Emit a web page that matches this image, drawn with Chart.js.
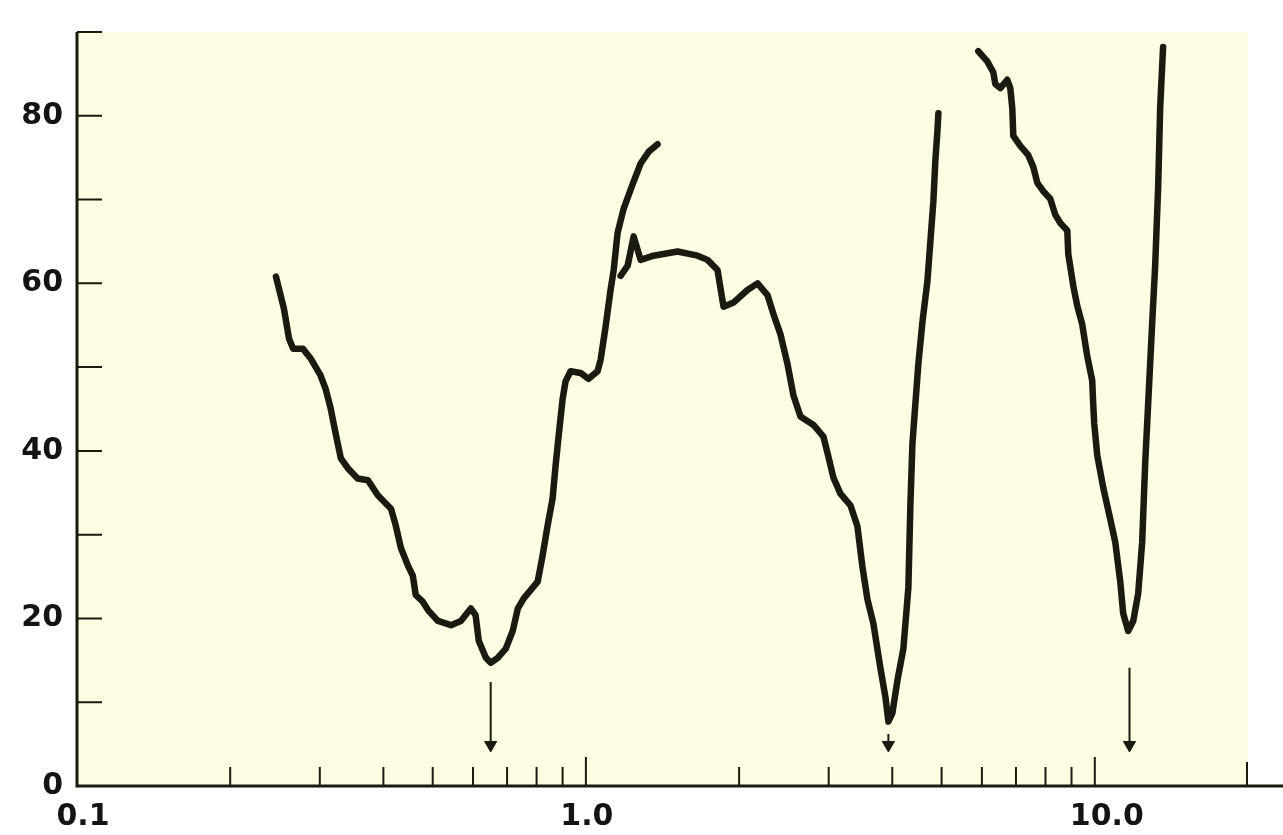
<!DOCTYPE html>
<html lang="en">
<head>
  <meta charset="UTF-8">
  <title>Chart</title>
  <script src="https://cdn.jsdelivr.net/npm/chart.js@4.4.1/dist/chart.umd.min.js"></script>
  <style>
    body { margin: 0; background: #fff; }
    canvas { display: block; }
  </style>
</head>
<body>
  <canvas id="chart" width="1283" height="835"></canvas>

<script>
  // trace 1 : 0.25 .. 1.4
  const curve1X = [0.246, 0.255, 0.261, 0.266, 0.278, 0.288, 0.301, 0.308, 0.315, 0.323, 0.330, 0.341, 0.356, 0.373, 0.390,
    0.414, 0.423, 0.433, 0.447, 0.457, 0.463, 0.478, 0.491, 0.512, 0.543, 0.568, 0.594, 0.607, 0.616, 0.636, 0.650,
    0.671, 0.696, 0.718, 0.735, 0.755, 0.804, 0.822, 0.841, 0.860, 0.872, 0.884, 0.900, 0.912, 0.933, 0.976, 1.012,
    1.054, 1.069, 1.093, 1.118, 1.134, 1.154, 1.186, 1.235, 1.281, 1.328, 1.383];
  const curve1Y = [60.8, 57.0, 53.4, 52.2, 52.2, 51.0, 49.0, 47.4, 45.1, 41.8, 39.1, 37.9, 36.7, 36.5, 34.7,
    33.1, 31.1, 28.4, 26.3, 25.1, 22.8, 22.0, 20.9, 19.7, 19.2, 19.7, 21.2, 20.4, 17.3, 15.3, 14.7,
    15.3, 16.4, 18.5, 21.2, 22.4, 24.4, 27.5, 31.1, 34.3, 38.3, 41.8, 46.2, 48.3, 49.5, 49.3, 48.6,
    49.5, 50.9, 54.8, 59.2, 61.6, 66.0, 68.9, 71.8, 74.3, 75.7, 76.6];

  // trace 2 : 1.2 .. 4.9
  const curve2X = [1.170, 1.208, 1.241, 1.281, 1.358, 1.514, 1.657, 1.734, 1.814, 1.864, 1.950, 2.077, 2.174, 2.274,
    2.337, 2.412, 2.489, 2.558, 2.640, 2.800, 2.929, 2.996, 3.065, 3.163, 3.310, 3.416, 3.494, 3.574, 3.672, 3.790,
    3.878, 3.930, 4.002, 4.094, 4.206, 4.302, 4.341, 4.381, 4.440, 4.501, 4.583, 4.688, 4.752, 4.817, 4.861, 4.905, 4.928];
  const curve2Y = [60.9, 62.1, 65.6, 62.8, 63.3, 63.8, 63.3, 62.8, 61.6, 57.2, 57.7, 59.2, 60.0, 58.6,
    56.3, 53.9, 50.4, 46.6, 44.1, 43.1, 41.7, 39.3, 36.8, 34.9, 33.5, 31.0, 26.2, 22.3, 19.4, 14.1,
    10.6, 7.7, 8.7, 12.6, 16.4, 23.7, 33.5, 40.8, 45.6, 50.4, 55.3, 60.2, 65.0, 69.8, 74.7, 78.1, 80.3];

  // trace 3 : 5.9 .. 13.6
  const curve3X = [5.903, 6.148, 6.317, 6.375, 6.521, 6.730, 6.822, 6.884, 6.916, 7.138, 7.401, 7.570, 7.709, 7.920,
    8.174, 8.361, 8.554, 8.829, 8.869, 9.072, 9.237, 9.448, 9.664, 9.883, 9.928, 9.973, 10.11, 10.39, 10.72, 10.97,
    11.22, 11.37, 11.63, 11.90, 12.17, 12.39, 12.56, 12.73, 12.96, 13.14, 13.32, 13.44, 13.62];
  const curve3Y = [87.7, 86.5, 85.2, 83.8, 83.3, 84.3, 83.3, 80.9, 77.6, 76.4, 75.3, 73.9, 72.0, 71.0,
    70.1, 68.2, 67.2, 66.3, 63.5, 59.7, 57.3, 55.1, 51.3, 48.4, 45.6, 43.3, 39.5, 35.6, 31.9, 29.1,
    24.4, 20.6, 18.5, 19.7, 23.0, 29.1, 38.5, 45.6, 55.1, 62.1, 71.5, 80.9, 88.2];

  // arrows marking the minima
  const arrowX = [0.65, 3.93, 11.7];
  const arrowTop = [12.4, 6.2, 14.1];
  const arrowHead = [4.9, 4.9, 4.9];

  // axes
  const yTicks = [10, 20, 30, 40, 50, 60, 70, 80, 90];
  const yLabels = [0, 20, 40, 60, 80];
  const xMinorTicks = [0.2, 0.3, 0.4, 0.5, 0.6, 0.7, 0.8, 0.9, 2, 3, 4, 5, 6, 7, 8, 9];
  const xMajorTicks = [1, 10, 20];
  const xLabelValues = [0.1, 1, 10];
  const xLabels = ['0.1', '1.0', '10.0'];

  const INK = '#1b1a10';

  function points(xs, ys) {
    return xs.map((x, i) => ({ x: x, y: ys[i] }));
  }

  const traces = [[curve1X, curve1Y], [curve2X, curve2Y], [curve3X, curve3Y]].map(t => ({
    data: points(t[0], t[1]),
    showLine: true,
    borderColor: INK,
    borderWidth: 6.5,
    borderJoinStyle: 'round',
    borderCapStyle: 'round',
    pointRadius: 0,
    tension: 0
  }));

  const arrows = arrowX.map((x, i) => ({
    data: [{ x: x, y: arrowTop[i] }, { x: x, y: arrowHead[i] }],
    showLine: true,
    borderColor: INK,
    borderWidth: 2,
    pointStyle: 'triangle',
    pointRotation: 180,
    pointRadius: [0, 7],
    pointBackgroundColor: INK,
    pointBorderColor: INK,
    pointBorderWidth: 1
  }));

  const frame = {
    id: 'frame',
    beforeDatasetsDraw(chart) {
      const ctx = chart.ctx;
      const a = chart.chartArea;
      const x = chart.scales.x, y = chart.scales.y;
      ctx.save();
      ctx.fillStyle = '#fefce2';
      ctx.fillRect(a.left, a.top, a.right - a.left, a.bottom - a.top);

      ctx.strokeStyle = INK;
      ctx.lineWidth = 3;
      ctx.beginPath();
      ctx.moveTo(a.left, a.top);
      ctx.lineTo(a.left, a.bottom);
      ctx.lineTo(chart.width, a.bottom);
      ctx.stroke();

      ctx.lineWidth = 2;
      ctx.beginPath();
      yTicks.forEach(v => {
        const py = y.getPixelForValue(v);
        ctx.moveTo(a.left, py);
        ctx.lineTo(a.left + 25, py);
      });
      xMinorTicks.forEach(v => {
        const px = x.getPixelForValue(v);
        ctx.moveTo(px, a.bottom);
        ctx.lineTo(px, a.bottom - 19);
      });
      xMajorTicks.forEach((v, i) => {
        const px = Math.min(x.getPixelForValue(v), a.right - 1);
        ctx.moveTo(px, a.bottom);
        ctx.lineTo(px, a.bottom - (i < 2 ? 29 : 24));
      });
      ctx.stroke();

      ctx.fillStyle = '#141414';
      ctx.font = 'bold 30px "DejaVu Sans"';
      ctx.textAlign = 'right';
      ctx.textBaseline = 'middle';
      yLabels.forEach(v => {
        ctx.fillText(String(v), 63, y.getPixelForValue(v));
      });
      const shift = [6, 1, 12];
      ctx.textAlign = 'center';
      xLabelValues.forEach((v, i) => {
        ctx.fillText(xLabels[i], x.getPixelForValue(v) + shift[i], a.bottom + 31);
      });
      ctx.restore();
    }
  };

  new Chart(document.getElementById('chart'), {
    type: 'scatter',
    data: { datasets: traces.concat(arrows) },
    options: {
      responsive: false,
      animation: false,
      layout: { padding: { left: 77, right: 35, top: 32, bottom: 49 } },
      plugins: { legend: { display: false }, tooltip: { enabled: false } },
      scales: {
        x: { type: 'logarithmic', min: 0.1, max: 20, display: false },
        y: { type: 'linear', min: 0, max: 90, display: false }
      }
    },
    plugins: [frame]
  });
</script>
</body>
</html>
